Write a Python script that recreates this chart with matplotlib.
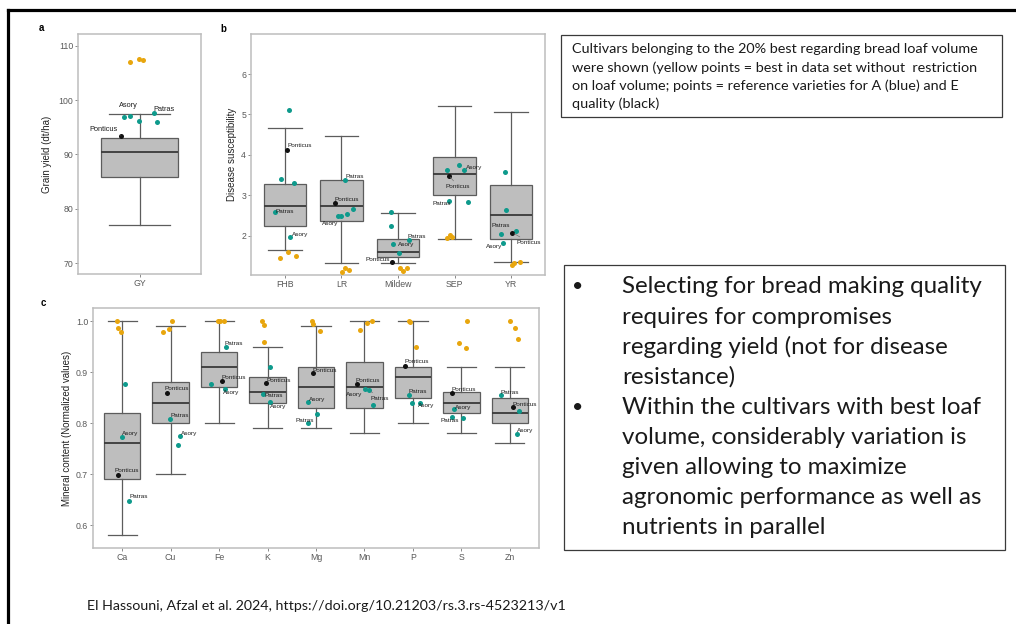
import matplotlib.pyplot as plt
from matplotlib.patches import Rectangle
from matplotlib.lines import Line2D

W, H = 1016, 624

# boxplot summaries: (lower whisker, Q1, median, Q3, upper whisker)
gy_cats = ['GY']
gy_stats = [(77.0, 85.9, 90.4, 93.1, 97.5)]

dis_cats = ['FHB', 'LR', 'Mildew', 'SEP', 'YR']
dis_stats = [(1.66, 2.25, 2.73, 3.29, 4.67),
             (1.33, 2.37, 2.73, 3.37, 4.46),
             (1.32, 1.48, 1.59, 1.91, 2.56),
             (1.91, 3.02, 3.53, 3.94, 5.22),
             (1.36, 1.93, 2.51, 3.26, 5.06)]

min_cats = ['Ca', 'Cu', 'Fe', 'K', 'Mg', 'Mn', 'P', 'S', 'Zn']
min_stats = [(0.58, 0.69, 0.76, 0.82, 1.00),
             (0.70, 0.80, 0.84, 0.88, 0.99),
             (0.80, 0.87, 0.91, 0.94, 1.00),
             (0.79, 0.84, 0.86, 0.89, 0.95),
             (0.79, 0.83, 0.87, 0.91, 0.99),
             (0.78, 0.83, 0.87, 0.92, 1.00),
             (0.80, 0.85, 0.89, 0.91, 1.00),
             (0.78, 0.82, 0.84, 0.86, 0.91),
             (0.76, 0.80, 0.82, 0.85, 0.91)]

# cultivars: (category index, jitter, value, group, name)
# group: 'best' = best without loaf volume restriction, 'A' = A quality, 'E' = E quality
gy_points = [
    (0, -0.09, 107.05, 'best', ''), (0, -0.005, 107.5, 'best', ''), (0, 0.035, 107.3, 'best', ''),
    (0, -0.15, 96.95, 'A', ''), (0, -0.09, 97.15, 'A', 'Asory'), (0, -0.005, 96.2, 'A', ''),
    (0, 0.14, 97.6, 'A', 'Patras'), (0, 0.17, 96.0, 'A', ''),
    (0, -0.18, 93.4, 'E', 'Ponticus'),
]

dis_points = [
    (0, 0.07, 5.10, 'A', ''), (0, 0.03, 4.13, 'E', 'Ponticus'), (0, -0.07, 3.41, 'A', ''),
    (0, 0.16, 3.31, 'A', ''), (0, -0.18, 2.58, 'A', 'Patras'), (0, 0.09, 1.97, 'A', 'Asory'),
    (0, -0.09, 1.45, 'best', ''), (0, 0.06, 1.61, 'best', ''), (0, 0.20, 1.51, 'best', ''),
    (1, 0.07, 3.37, 'A', 'Patras'), (1, -0.11, 2.81, 'E', 'Ponticus'), (1, -0.06, 2.49, 'A', 'Asory'),
    (1, -0.01, 2.49, 'A', ''), (1, 0.09, 2.54, 'A', ''), (1, 0.20, 2.67, 'A', ''),
    (1, 0.01, 1.11, 'best', ''), (1, 0.07, 1.20, 'best', ''), (1, 0.13, 1.15, 'best', ''),
    (2, -0.12, 2.60, 'A', ''), (2, -0.12, 2.24, 'A', ''), (2, 0.20, 1.89, 'A', 'Patras'),
    (2, -0.09, 1.79, 'A', 'Asory'), (2, 0.01, 1.58, 'A', ''), (2, -0.10, 1.36, 'E', 'Ponticus'),
    (2, 0.03, 1.21, 'best', ''), (2, 0.09, 1.13, 'best', ''), (2, 0.16, 1.21, 'best', ''),
    (3, -0.13, 3.63, 'A', ''), (3, 0.08, 3.74, 'A', ''), (3, 0.16, 3.62, 'A', 'Asory'),
    (3, -0.10, 3.49, 'E', 'Ponticus'), (3, -0.10, 2.87, 'A', 'Patras'), (3, 0.23, 2.83, 'A', ''),
    (3, -0.13, 1.95, 'best', ''), (3, -0.08, 2.03, 'best', ''), (3, -0.05, 1.97, 'best', ''),
    (4, -0.10, 3.57, 'A', ''), (4, -0.09, 2.63, 'A', ''), (4, -0.18, 2.04, 'A', 'Patras'),
    (4, 0.08, 2.13, 'A', ''), (4, 0.02, 2.08, 'E', 'Ponticus'), (4, -0.14, 1.81, 'A', 'Asory'),
    (4, 0.01, 1.27, 'best', ''), (4, 0.05, 1.32, 'best', ''), (4, 0.15, 1.34, 'best', ''),
]

min_points = [
    (0, -0.10, 1.000, 'best', ''), (0, -0.09, 0.987, 'best', ''), (0, -0.03, 0.978, 'best', ''),
    (0, 0.06, 0.877, 'A', ''), (0, -0.01, 0.773, 'A', 'Asory'), (0, -0.08, 0.698, 'E', 'Ponticus'),
    (0, 0.14, 0.648, 'A', 'Patras'),
    (1, -0.15, 0.979, 'best', ''), (1, -0.04, 0.984, 'best', ''), (1, 0.03, 1.000, 'best', ''),
    (1, -0.07, 0.858, 'E', 'Ponticus'), (1, -0.01, 0.808, 'A', 'Patras'), (1, 0.19, 0.775, 'A', 'Asory'),
    (1, 0.15, 0.757, 'A', ''),
    (2, -0.02, 1.000, 'best', ''), (2, 0.03, 1.000, 'best', ''), (2, 0.11, 1.000, 'best', ''),
    (2, 0.14, 0.949, 'A', 'Patras'), (2, 0.07, 0.882, 'E', 'Ponticus'), (2, -0.16, 0.876, 'A', ''),
    (2, 0.12, 0.867, 'A', 'Asory'),
    (3, -0.11, 1.000, 'best', ''), (3, -0.07, 0.993, 'best', ''), (3, -0.07, 0.959, 'best', ''),
    (3, 0.05, 0.909, 'A', ''), (3, -0.03, 0.878, 'E', 'Ponticus'), (3, -0.09, 0.857, 'A', 'Patras'),
    (3, 0.06, 0.841, 'A', 'Asory'),
    (4, -0.09, 1.000, 'best', ''), (4, -0.06, 0.995, 'best', ''), (4, 0.09, 0.981, 'best', ''),
    (4, -0.06, 0.898, 'E', 'Ponticus'), (4, -0.17, 0.842, 'A', 'Asory'), (4, 0.03, 0.818, 'A', ''),
    (4, -0.17, 0.800, 'A', 'Patras'),
    (5, -0.10, 0.982, 'best', ''), (5, 0.05, 0.997, 'best', ''), (5, 0.15, 1.000, 'best', ''),
    (5, -0.15, 0.877, 'E', 'Ponticus'), (5, 0.02, 0.867, 'A', 'Asory'), (5, 0.10, 0.864, 'A', 'Patras'),
    (5, 0.17, 0.836, 'A', ''),
    (6, -0.09, 1.000, 'best', ''), (6, -0.07, 0.999, 'best', ''), (6, 0.06, 0.950, 'best', ''),
    (6, -0.17, 0.912, 'E', 'Ponticus'), (6, -0.09, 0.854, 'A', 'Patras'), (6, -0.03, 0.840, 'A', ''),
    (6, 0.15, 0.840, 'A', 'Asory'),
    (7, 0.12, 1.000, 'best', ''), (7, -0.06, 0.956, 'best', ''), (7, 0.10, 0.947, 'best', ''),
    (7, -0.19, 0.859, 'E', 'Ponticus'), (7, -0.16, 0.827, 'A', 'Asory'), (7, -0.19, 0.812, 'A', 'Patras'),
    (7, 0.03, 0.809, 'A', ''),
    (8, 0.01, 1.000, 'best', ''), (8, 0.10, 0.986, 'best', ''), (8, 0.17, 0.965, 'best', ''),
    (8, -0.19, 0.854, 'A', 'Patras'), (8, 0.07, 0.831, 'E', 'Ponticus'), (8, 0.19, 0.824, 'A', ''),
    (8, 0.14, 0.779, 'A', 'Asory'),
]

# label placement (pixel offset dx, dy, alignment, leader line)
gy_labels = {(0, 'Asory'): (-1.7, 9.7, 'center', False),
             (0, 'Patras'): (0, 3.3, 'left', False),
             (0, 'Ponticus'): (-3.3, 6, 'right', True)}
dis_labels = {(0, 'Ponticus'): (0.7, 4, 'left', False), (0, 'Patras'): (1, 1.3, 'left', False),
              (0, 'Asory'): (1.7, 2, 'left', False),
              (1, 'Patras'): (0, 4, 'left', False), (1, 'Ponticus'): (-0.7, 3.7, 'left', False),
              (1, 'Asory'): (-7.7, -8, 'center', False),
              (2, 'Patras'): (-1.7, 4, 'left', False), (2, 'Asory'): (5.3, -0.7, 'left', False),
              (2, 'Ponticus'): (-2.3, 2.3, 'right', False),
              (3, 'Asory'): (2, 2.3, 'left', False), (3, 'Ponticus'): (-3, -10.7, 'left', True),
              (3, 'Patras'): (2.3, -2.7, 'right', False),
              (4, 'Patras'): (-0.3, 9, 'center', False), (4, 'Ponticus'): (4.7, -9.7, 'left', True),
              (4, 'Asory'): (-0.7, -2.7, 'right', False)}
min_labels = {(0, 'Asory'): (0, 3, 'left', False), (0, 'Ponticus'): (-3.3, 4.3, 'left', False),
              (0, 'Patras'): (1, 3.7, 'left', False),
              (1, 'Ponticus'): (-2.7, 4.7, 'left', False), (1, 'Patras'): (0, 3.7, 'left', False),
              (1, 'Asory'): (1.7, 2.7, 'left', False),
              (2, 'Patras'): (-1.7, 4, 'left', False), (2, 'Ponticus'): (-1, 3.3, 'left', False),
              (2, 'Asory'): (-1.7, -4, 'left', False),
              (3, 'Ponticus'): (0.7, 2.7, 'left', False), (3, 'Patras'): (1.7, -1.7, 'left', False),
              (3, 'Asory'): (0, -4, 'left', False),
              (4, 'Ponticus'): (-0.7, 2.3, 'left', False), (4, 'Asory'): (1.7, 2, 'left', False),
              (4, 'Patras'): (-3.3, 2.7, 'center', False),
              (5, 'Ponticus'): (-1.7, 3.3, 'left', False), (5, 'Asory'): (-3.3, -5.7, 'right', True),
              (5, 'Patras'): (1.3, -7.7, 'left', True),
              (6, 'Ponticus'): (-0.7, 4.3, 'left', False), (6, 'Patras'): (0, 4, 'left', False),
              (6, 'Asory'): (-2.3, -3.3, 'left', False),
              (7, 'Ponticus'): (-1, 3.3, 'left', False), (7, 'Asory'): (1.7, 2, 'left', False),
              (7, 'Patras'): (-2.7, -3.3, 'center', False),
              (8, 'Patras'): (0, 3.3, 'left', False), (8, 'Ponticus'): (-0.7, 2.7, 'left', False),
              (8, 'Asory'): (0.7, 3.3, 'left', False)}

group_colors = {'best': '#E8A60E', 'A': '#0E9A8C', 'E': '#111111'}

plt.rcParams['font.family'] = ['Liberation Sans', 'DejaVu Sans']

fig = plt.figure(figsize=(W / 100, H / 100), dpi=100)


def add_axes_px(x0, y0, x1, y1):
    return fig.add_axes([x0 / W, 1 - y1 / H, (x1 - x0) / W, (y1 - y0) / H])


def draw_panel(ax, cats, stats, points, labels, ylim, yticks, yticklabels,
               ylabel, ylabel_x, letter, letter_xy, label_fs):
    n = len(cats)
    bstats = [dict(whislo=s[0], q1=s[1], med=s[2], q3=s[3], whishi=s[4], fliers=[])
              for s in stats]
    line = dict(color='#5c5c5c', lw=0.9)
    ax.bxp(bstats, positions=range(1, n + 1), widths=0.75, capwidths=0.6,
           patch_artist=True, showfliers=False,
           boxprops=dict(facecolor='#BEBEBE', edgecolor='#5c5c5c', lw=0.9),
           medianprops=dict(color='#3a3a3a', lw=1.3),
           whiskerprops=line, capprops=line)
    for grp in ['best', 'A', 'E']:
        xs = [c + 1 + dx for c, dx, v, g, nm in points if g == grp]
        ys = [v for c, dx, v, g, nm in points if g == grp]
        ax.scatter(xs, ys, s=13, color=group_colors[grp], lw=0, zorder=3)
    for c, dx, v, g, nm in points:
        if not nm:
            continue
        ox, oy, ha, seg = labels[(c, nm)]
        arrow = dict(arrowstyle='-', color='#666666', lw=0.4, shrinkA=0, shrinkB=1.5) if seg else None
        ax.annotate(nm, xy=(c + 1 + dx, v), xytext=(ox, oy), textcoords='offset pixels',
                    ha=ha, va='center', fontsize=label_fs, color='#1e1e1e',
                    arrowprops=arrow, zorder=4)
    ax.set_xlim(0.4, n + 0.6)
    ax.set_ylim(*ylim)
    ax.set_xticks(range(1, n + 1), cats)
    ax.set_yticks(yticks, yticklabels)
    ax.tick_params(labelsize=6.3, labelcolor='#595959', color='#777777',
                   length=2, width=0.6, pad=1.5)
    for sp in ax.spines.values():
        sp.set_color('#BDBDBD')
        sp.set_linewidth(1.1)
    ax.set_ylabel(ylabel, fontsize=7, color='#222222')
    bb = ax.get_position()
    ax.yaxis.set_label_coords((ylabel_x / W - bb.x0) / bb.width, 0.5)
    fig.text(letter_xy[0] / W, 1 - letter_xy[1] / H, letter, fontsize=7,
             fontweight='bold', ha='center', va='center')


ax_a = add_axes_px(78, 34, 201, 274)
draw_panel(ax_a, gy_cats, gy_stats, gy_points, gy_labels, (68.0, 112.15),
           [70, 80, 90, 100, 110], ['70', '80', '90', '100', '110'],
           'Grain yield (dt/ha)', 52, 'a', (41, 28), 5.3)

ax_b = add_axes_px(251, 34, 545, 275)
draw_panel(ax_b, dis_cats, dis_stats, dis_points, dis_labels, (1.03, 6.99),
           [2, 3, 4, 5, 6], ['2', '3', '4', '5', '6'],
           'Disease susceptibility', 237, 'b', (223, 29), 4.6)

ax_c = add_axes_px(93, 308, 539, 548)
draw_panel(ax_c, min_cats, min_stats, min_points, min_labels, (0.555, 1.0255),
           [0.6, 0.7, 0.8, 0.9, 1.0], ['0.6', '0.7', '0.8', '0.9', '1.0'],
           'Mineral content (Normalized values)', 72, 'c', (43, 303), 4.6)

# slide frame
fig.add_artist(Line2D([8 / W, 1], [1 - 10 / H, 1 - 10 / H], color='black', lw=2.3,
                      transform=fig.transFigure, solid_capstyle='projecting'))
fig.add_artist(Line2D([8 / W, 8 / W], [0, 1 - 10 / H], color='black', lw=2.3,
                      transform=fig.transFigure, solid_capstyle='projecting'))

slide_font = ['Lato', 'DejaVu Sans']

# note box
fig.add_artist(Rectangle((561 / W, 1 - 117 / H), 441 / W, 82 / H, fill=False,
                         edgecolor='#3a3a3a', lw=0.9, transform=fig.transFigure))
note_lines = ['Cultivars belonging to the 20% best regarding bread loaf volume',
              'were shown (yellow points = best in data set without  restriction',
              'on loaf volume; points = reference varieties for A (blue) and E',
              'quality (black)']
for i, t in enumerate(note_lines):
    fig.text(572 / W, 1 - (49 + i * 18.4) / H, t, fontsize=10.4, family=slide_font,
             color='#1a1a1a', va='center', ha='left')

# key findings box
fig.add_artist(Rectangle((564 / W, 1 - 550 / H), 441 / W, 285 / H, fill=False,
                         edgecolor='#3a3a3a', lw=0.9, transform=fig.transFigure))
bullet_lines = ['Selecting for bread making quality',
                'requires for compromises',
                'regarding yield (not for disease',
                'resistance)',
                'Within the cultivars with best loaf',
                'volume, considerably variation is',
                'given allowing to maximize',
                'agronomic performance as well as',
                'nutrients in parallel']
for i, t in enumerate(bullet_lines):
    y = 1 - (287 + i * 30) / H
    fig.text(622 / W, y, t, fontsize=17.4, family=slide_font, color='#1a1a1a',
             va='center', ha='left')
    if i in (0, 4):
        fig.text(578 / W, y, '•', fontsize=14, family=slide_font, color='#1a1a1a',
                 va='center', ha='center')

fig.text(87 / W, 1 - 606 / H,
         'El Hassouni, Afzal et al. 2024, https://doi.org/10.21203/rs.3.rs-4523213/v1',
         fontsize=10.25, family=slide_font, color='#1a1a1a', va='center', ha='left')

fig.savefig('out.png', dpi=100, facecolor='white')
